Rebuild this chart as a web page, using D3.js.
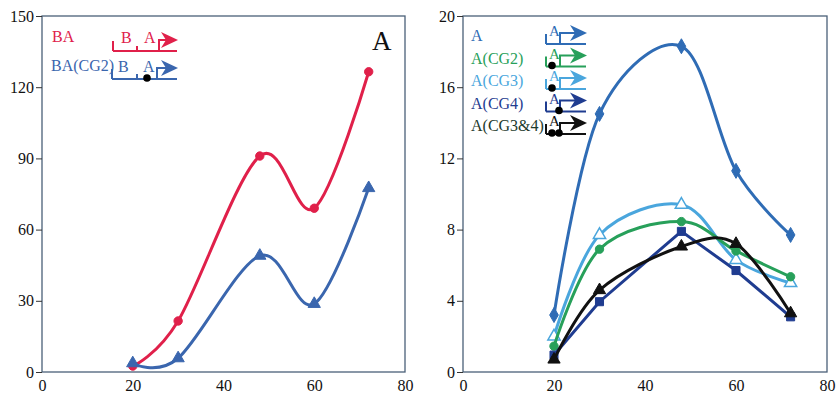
<!DOCTYPE html>
<html>
<head>
<meta charset="utf-8">
<script src="https://cdn.jsdelivr.net/npm/d3@7"></script>
<style>
body { margin: 0; background: #fff; }
svg text { font-family: "Liberation Serif", "DejaVu Serif", serif; }
</style>
</head>
<body>
<div id="chart"></div>
<script>
// data
var xValues = [20, 30, 48, 60, 72];
var xTicks = [0, 20, 40, 60, 80];

var baVals = [2.5, 21.5, 91, 69, 126.5];
var baCg2Vals = [3.7, 5.8, 49, 28.7, 77.5];
var leftTicks = [0, 30, 60, 90, 120, 150];

var aVals = [3.2, 14.5, 18.3, 11.3, 7.7];
var cg2Vals = [1.45, 6.9, 8.45, 6.8, 5.35];
var cg3Vals = [2.0, 7.7, 9.4, 6.3, 5.0];
var cg4Vals = [0.95, 3.95, 7.9, 5.7, 3.1];
var cg34Vals = [0.7, 4.6, 7.05, 7.2, 3.3];
var rightTicks = [0, 4, 8, 12, 16, 20];

var RED = "#e0204a", BLUE = "#3a66ae";
var A_BLUE = "#2f6cb5", GREEN = "#27a05a", LIGHT = "#4aa6dd", NAVY = "#1f3c90", BLACK = "#111";

var svg = d3.select("#chart").append("svg")
    .attr("width", 838)
    .attr("height", 399);

function panel(left, right, yMax, yTicks) {
    var x = d3.scaleLinear().domain([0, 80]).range([left, right]);
    var y = d3.scaleLinear().domain([0, yMax]).range([372, 16]);
    var g = svg.append("g");

    g.append("rect")
        .attr("x", left).attr("y", 16)
        .attr("width", right - left).attr("height", 356)
        .attr("fill", "none").attr("stroke", "#4a6078").attr("stroke-width", 1.3);

    var yAxis = g.append("g")
        .attr("transform", `translate(${left},0)`)
        .call(d3.axisLeft(y).tickValues(yTicks).tickSize(6).tickPadding(2).tickSizeOuter(0));
    yAxis.select(".domain").remove();
    yAxis.selectAll("line").attr("stroke", "#333");
    yAxis.selectAll("text").attr("font-size", 16).attr("fill", "#111")
        .attr("font-family", "Liberation Serif, serif");

    var xAxis = g.append("g")
        .attr("transform", "translate(0,372)")
        .call(d3.axisBottom(x).tickValues(xTicks).tickSize(0).tickPadding(8));
    xAxis.select(".domain").remove();
    xAxis.selectAll("text").attr("font-size", 16).attr("fill", "#111")
        .attr("font-family", "Liberation Serif, serif");

    return { g: g, x: x, y: y };
}

function series(p, vals, color, curve, marker, hollow) {
    var line = d3.line()
        .x((d, i) => p.x(xValues[i]))
        .y(d => p.y(d))
        .curve(curve);
    p.g.append("path")
        .datum(vals)
        .attr("d", line)
        .attr("fill", "none")
        .attr("stroke", color)
        .attr("stroke-width", 3)
        .attr("stroke-linecap", "round");
    var sym = d3.symbol().type(marker).size(marker === d3.symbolCircle ? 55 : 65);
    p.g.selectAll(null)
        .data(vals)
        .enter()
        .append("path")
        .attr("d", sym)
        .attr("transform", (d, i) => `translate(${p.x(xValues[i])},${p.y(d)})`)
        .attr("fill", hollow ? "#fff" : color)
        .attr("stroke", color)
        .attr("stroke-width", hollow ? 1.5 : 1);
}

// left panel
var pl = panel(42, 405, 150, leftTicks);
var smooth = d3.curveCardinal.tension(0);
series(pl, baVals, RED, smooth, d3.symbolCircle);
series(pl, baCg2Vals, BLUE, smooth, d3.symbolTriangle);

// right panel
var pr = panel(463, 827, 20, rightTicks);
series(pr, aVals, A_BLUE, smooth, d3.symbolDiamond);
series(pr, cg3Vals, LIGHT, smooth, d3.symbolTriangle, true);
series(pr, cg2Vals, GREEN, smooth, d3.symbolCircle);
series(pr, cg4Vals, NAVY, d3.curveLinear, d3.symbolSquare);
series(pr, cg34Vals, BLACK, smooth, d3.symbolTriangle);

// panel label
svg.append("text").attr("x", 372).attr("y", 50)
    .attr("font-size", 27).attr("fill", "#111").text("A");

// gene diagrams in the legends
function diagram(color, x0, base, ticks, arrowX, x1, labels, dots) {
    var g = svg.append("g").attr("stroke", color).attr("stroke-width", 2).attr("fill", "none");
    g.append("line").attr("x1", x0).attr("x2", x1).attr("y1", base).attr("y2", base);
    g.append("line").attr("x1", x0).attr("x2", x0).attr("y1", base - 10).attr("y2", base);
    ticks.forEach(t => g.append("line").attr("x1", t).attr("x2", t).attr("y1", base - 5).attr("y2", base));
    g.append("path").attr("d", `M${arrowX},${base} V${base - 11} H${x1 - 10}`);
    g.append("path")
        .attr("d", `M${x1 - 16},${base - 19} L${x1 + 1},${base - 11} L${x1 - 16},${base - 3} L${x1 - 11},${base - 11} Z`)
        .attr("fill", color).attr("stroke", "none");
    labels.forEach(l => svg.append("text").attr("x", l[0]).attr("y", l[1])
        .attr("font-size", l[2]).attr("fill", color).text(l[3]));
    dots.forEach(d => svg.append("circle").attr("cx", d).attr("cy", base - 1).attr("r", 3.8).attr("fill", "#000"));
}

svg.append("text").attr("x", 52).attr("y", 42).attr("font-size", 16).attr("fill", RED).text("BA");
svg.append("text").attr("x", 51).attr("y", 71).attr("font-size", 16).attr("fill", BLUE).text("BA(CG2)");
diagram(RED, 113, 51, [137], 159, 177, [[121, 43, 16, "B"], [144, 43, 16, "A"]], []);
diagram(BLUE, 112, 79, [137], 157, 177, [[118, 72, 16, "B"], [143, 72, 16, "A"]], [147]);

var rightLegend = [
    ["A", A_BLUE, 41, []],
    ["A(CG2)", GREEN, 63.5, [552]],
    ["A(CG3)", LIGHT, 86, [552]],
    ["A(CG4)", NAVY, 108.5, [559]],
    ["A(CG3&4)", "#123", 131, [552, 559]]
];
rightLegend.forEach(r => {
    svg.append("text").attr("x", 471).attr("y", r[2]).attr("font-size", 16)
        .attr("fill", r[1] === "#123" ? "#1d3a2c" : r[1]).text(r[0]);
    diagram(r[1] === "#123" ? BLACK : r[1], 546, r[2] + 3, [], 560, 586,
        [[549, r[2] - 5, 15, "A"]], r[3]);
});
</script>
</body>
</html>
